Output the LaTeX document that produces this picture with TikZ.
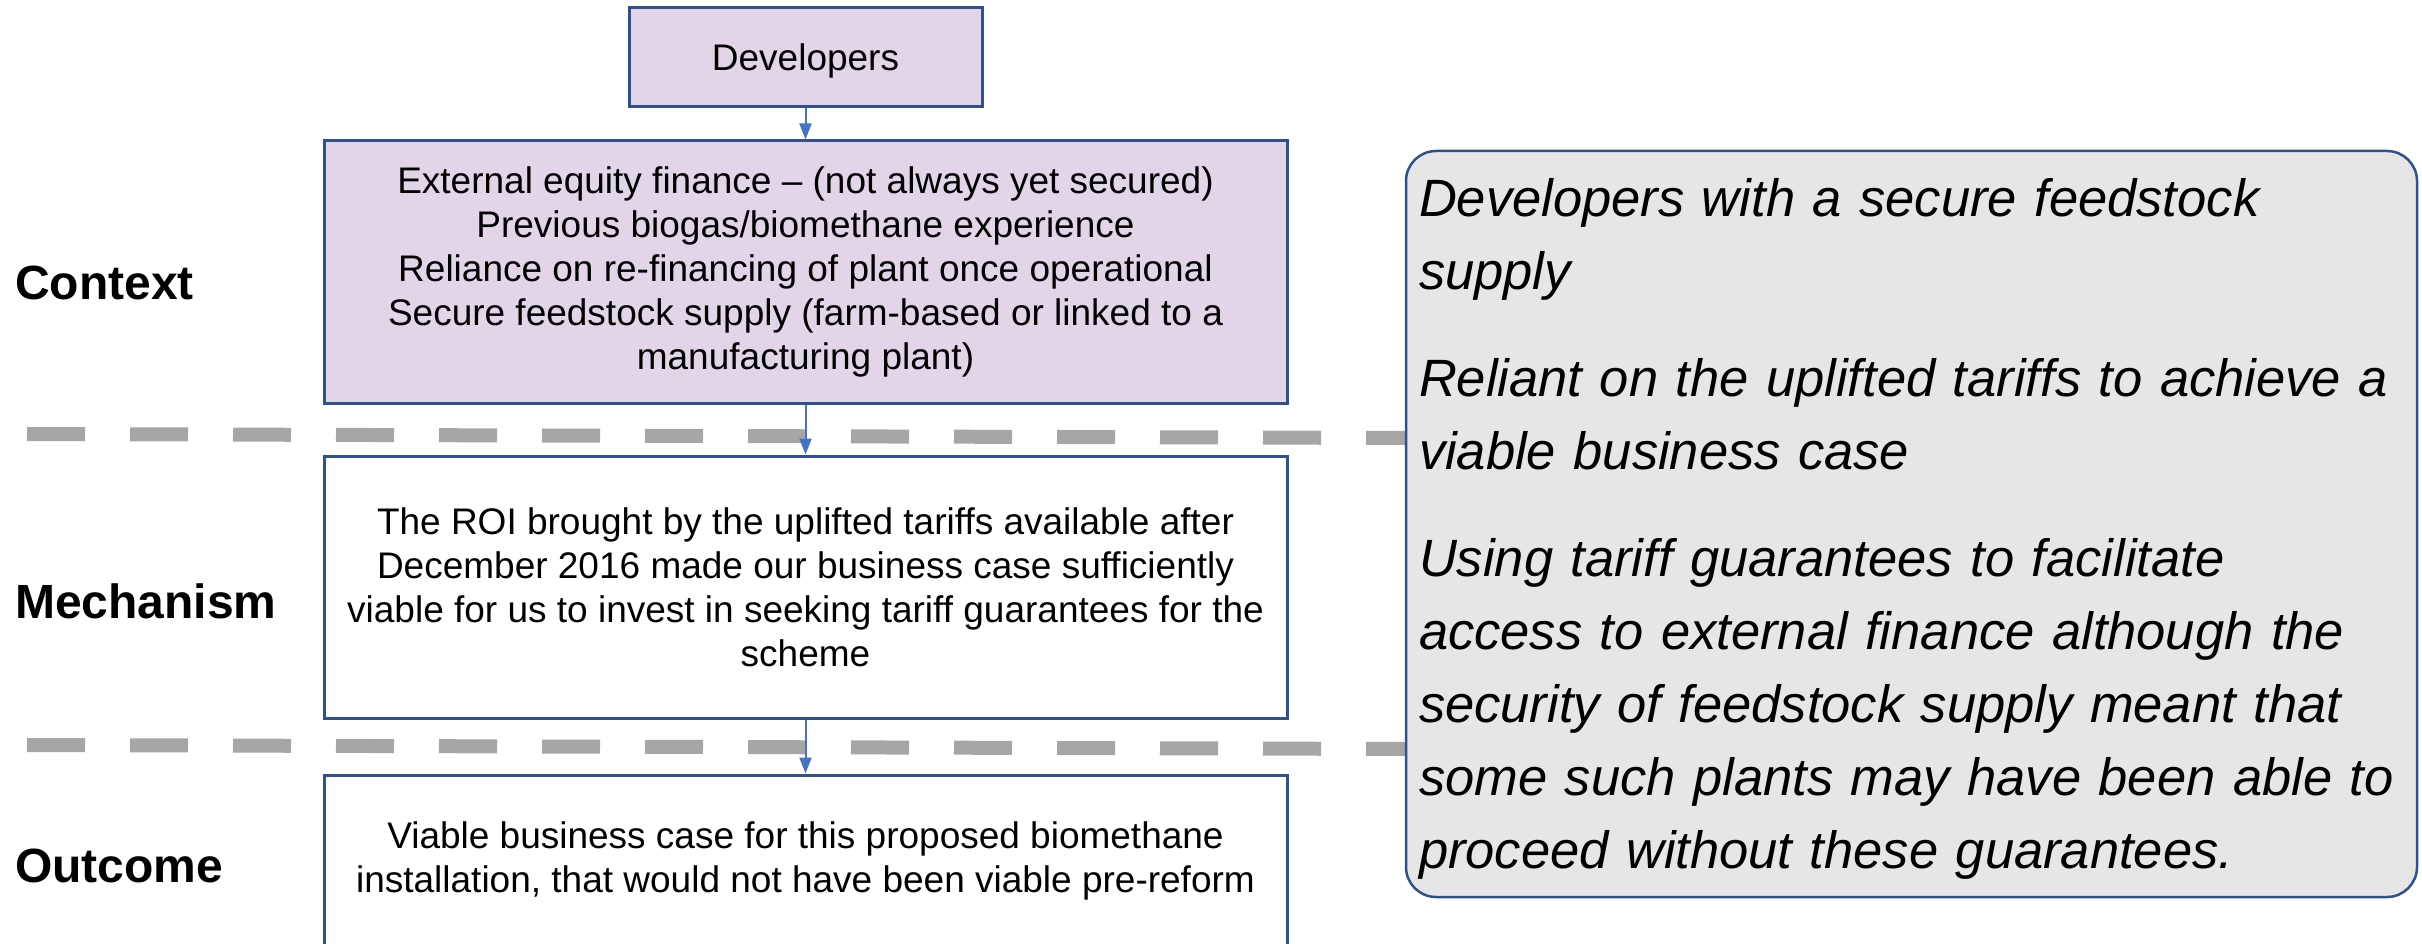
\documentclass[tikz,border=0pt]{standalone}
\usepackage{fontspec}
\setmainfont{Liberation Sans}
\usetikzlibrary{arrows.meta}
\definecolor{boxblue}{HTML}{2F528F}
\definecolor{arrowblue}{HTML}{4472C4}
\definecolor{lilac}{HTML}{E1D5E7}
\definecolor{dashgray}{HTML}{A6A6A6}
\definecolor{notegray}{HTML}{E7E6E6}
\tikzset{
  flowbox/.style={draw=boxblue, line width=3pt, inner sep=0pt, align=center,
    font=\fontsize{37}{44}\selectfont},
  lilacbox/.style={flowbox, fill=lilac},
  whitebox/.style={flowbox, fill=white},
  rowlabel/.style={anchor=west, inner sep=0pt, font=\fontsize{48}{56}\selectfont\bfseries},
  sepline/.style={draw=dashgray, line width=14pt, dash pattern=on 58pt off 45pt},
  flowarrow/.style={draw=arrowblue, line width=2pt, -{Triangle[length=16pt,width=12pt]}},
  notebox/.style={draw=boxblue, line width=2.5pt, fill=notegray, rounded corners=30pt,
    inner xsep=13pt, inner ysep=0pt, align=left,
    font=\fontsize{52.5}{73}\selectfont\itshape}
}
\begin{document}
\begin{tikzpicture}[x=1pt,y=-1pt]
\clip (0,0) rectangle (2422,944);
\fill[white] (0,0) rectangle (2422,944);
% separators
\draw[sepline] (27,434) -- (1406,438);
\draw[sepline] (27,745) -- (1406,749);
% flow boxes
\node[lilacbox, text depth=0pt, minimum width=353pt, minimum height=99pt] (dev) at (805.5,57.5) {Developers};
\node[lilacbox, minimum width=963pt, minimum height=262pt] (ctx) at (805.5,272)
  {External equity finance – (not always yet secured)\\
   Previous biogas/biomethane experience\\
   Reliance on re-financing of plant once operational\\
   Secure feedstock supply (farm-based or linked to a\\
   manufacturing plant)};
\node[whitebox, minimum width=963pt, minimum height=262pt] (mech) at (805.5,587)
  {The ROI brought by the uplifted tariffs available after\\
   December 2016 made our business case sufficiently\\
   viable for us to invest in seeking tariff guarantees for the\\
   scheme};
\node[whitebox, minimum width=963pt, minimum height=172pt] (out) at (805.5,861)
  {Viable business case for this proposed biomethane\\
   installation, that would not have been viable pre-reform};
% arrows
\draw[flowarrow] (dev.south) -- (ctx.north);
\draw[flowarrow] (ctx.south) -- (mech.north);
\draw[flowarrow] (mech.south) -- (out.north);
% row labels
\node[rowlabel] (lctx) at (15,283) {Context};
\node[rowlabel] (lmech) at (15,601) {Mechanism};
\node[rowlabel] (lout) at (15,866) {Outcome};
% note
\node[notebox, text width=985pt, minimum width=1011pt, minimum height=746pt] (note) at (1911.5,524)
  {\rule{0pt}{48pt}Developers with a secure feedstock\\
   supply\\[34pt]
   Reliant on the uplifted tariffs to achieve a\\
   viable business case\\[34pt]
   Using tariff guarantees to facilitate\\
   access to external finance although the\\
   security of feedstock supply meant that\\
   some such plants may have been able to\\
   proceed without these guarantees.};
\end{tikzpicture}
\end{document}
